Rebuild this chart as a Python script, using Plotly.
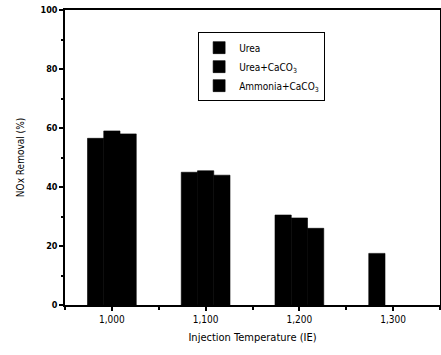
import plotly.graph_objects as go

temps = [1000, 1100, 1200, 1300]
temp_labels = ["1,000", "1,100", "1,200", "1,300"]
series_names = ["Urea", "Urea+CaCO<sub>3</sub>", "Ammonia+CaCO<sub>3</sub>"]
urea = [56.5, 45.0, 30.5, 17.5]
urea_caco3 = [59.0, 45.5, 29.5, None]
ammonia_caco3 = [58.0, 44.0, 26.0, None]

FONT = "DejaVu Sans Condensed, Liberation Sans Narrow, sans-serif"

fig = go.Figure()
for name, vals in zip(series_names, [urea, urea_caco3, ammonia_caco3]):
    fig.add_trace(go.Bar(
        x=temps, y=vals, name=name,
        marker=dict(color="black", line=dict(width=0.6, color="black")),
    ))

fig.update_layout(
    width=441, height=355,
    margin=dict(l=65, r=1, t=10, b=50, autoexpand=False),
    paper_bgcolor="white", plot_bgcolor="white",
    barmode="group", bargap=0.48, bargroupgap=0,
    font=dict(family=FONT, color="black", size=10),
    showlegend=True,
    legend=dict(
        x=0.355, y=0.925, xanchor="left", yanchor="top",
        bordercolor="black", borderwidth=1, bgcolor="white",
        font=dict(family=FONT, size=10, color="black"),
        tracegroupgap=0, itemwidth=30,
    ),
    xaxis=dict(
        range=[950, 1350], automargin=False,
        tickvals=temps, ticktext=temp_labels,
        showline=True, linecolor="black", linewidth=1.5, mirror=True,
        ticks="outside", ticklen=4, tickwidth=1.5, tickcolor="black",
        minor=dict(dtick=50, tick0=950, ticks="outside", ticklen=3, tickcolor="black"),
        showgrid=False, zeroline=False,
        tickfont=dict(family=FONT, size=10),
        title=dict(text="Injection Temperature (IE)", font=dict(family=FONT, size=11), standoff=10),
    ),
    yaxis=dict(
        range=[0, 100], automargin=False,
        tickvals=[0, 20, 40, 60, 80, 100],
        showline=True, linecolor="black", linewidth=1.5, mirror=True,
        ticks="outside", ticklen=4, tickwidth=1.5, tickcolor="black",
        minor=dict(dtick=10, ticks="outside", ticklen=2, tickcolor="black"),
        showgrid=False, zeroline=False,
        tickfont=dict(family=FONT, size=9, weight="bold"),
        title=dict(text="NOx Removal (%)", font=dict(family=FONT, size=10), standoff=14),
    ),
)

fig.write_html("out.html", config={"displayModeBar": False},
               post_script="document.body.style.margin='0px';")
